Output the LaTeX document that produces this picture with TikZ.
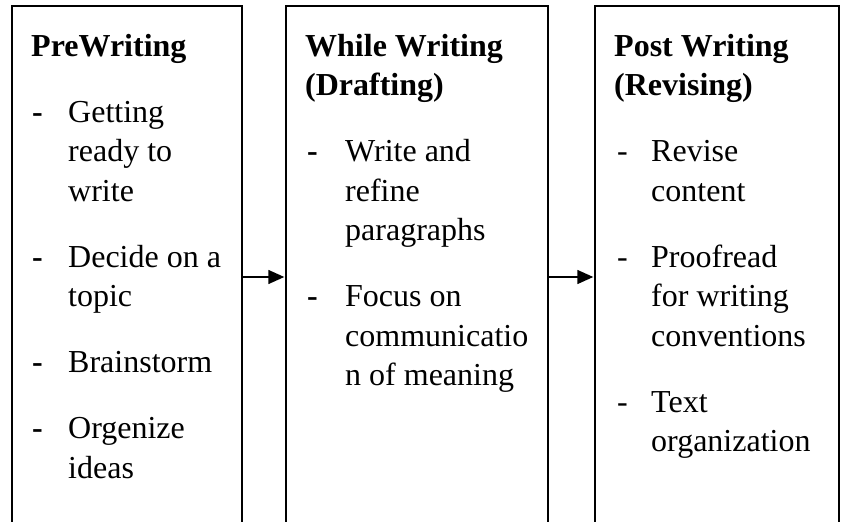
\documentclass[tikz,border=0pt]{standalone}
\usepackage{fontspec}
\setmainfont{Liberation Serif}
\usetikzlibrary{arrows.meta}

\tikzset{
  stagebox/.style={draw, line width=1.5pt, anchor=north west, minimum height=600pt, inner sep=0pt},
  txt/.style={anchor=base west, inner sep=0pt, font=\fontsize{32}{39.5}\selectfont},
  head/.style={txt, font=\fontsize{32}{39.5}\selectfont\bfseries},
  flow/.style={-{Triangle[length=16pt,width=14pt]}, line width=1.4pt, shorten >=0.7pt}
}

\begin{document}
\begin{tikzpicture}[x=1pt,y=-1pt]
  \clip (0,0) rectangle (844,522);
  \fill[white] (0,0) rectangle (844,522);

  % the three stages
  \node[stagebox, minimum width=230pt] (pre) at (11,5) {};
  \node[stagebox, minimum width=262pt] (while) at (285,5) {};
  \node[stagebox, minimum width=244pt] (post) at (594,5) {};

  \coordinate (lvl) at (0,277);
  \draw[flow] (pre.east |- lvl) -- (while.west |- lvl);
  \draw[flow] (while.east |- lvl) -- (post.west |- lvl);

  % PreWriting
  \node[head] (pre-h) at (31,56) {PreWriting};
  \foreach \y [count=\i] in {122,267,372.5,438.5}
    \node[txt] (pre-d\i) at (32,\y) {\textbf{-}};
  \foreach \y/\t [count=\i] in {122/Getting, 161.5/ready to, 201/write,
      267/Decide on a, 306.5/topic, 372.5/Brainstorm, 438.5/Orgenize, 478/ideas}
    \node[txt] (pre-\i) at (68,\y) {\t};

  % While Writing
  \node[head] (while-h1) at (305,56) {While Writing};
  \node[head] (while-h2) at (305,95.5) {(Drafting)};
  \foreach \y [count=\i] in {161.5,306.5}
    \node[txt] (while-d\i) at (307,\y) {\textbf{-}};
  \foreach \y/\t [count=\i] in {161.5/Write and, 201/refine, 240.5/paragraphs,
      306.5/Focus on, 346/communicatio, 385.5/n of meaning}
    \node[txt] (while-\i) at (345,\y) {\t};

  % Post Writing
  \node[head] (post-h1) at (614,56) {Post Writing};
  \node[head] (post-h2) at (614,95.5) {(Revising)};
  \foreach \y [count=\i] in {161.5,267,412}
    \node[txt] (post-d\i) at (617,\y) {-};
  \foreach \y/\t [count=\i] in {161.5/Revise, 201/content, 267/Proofread,
      306.5/for writing, 346/conventions, 412/Text, 451.5/organization}
    \node[txt] (post-\i) at (651,\y) {\t};
\end{tikzpicture}
\end{document}
